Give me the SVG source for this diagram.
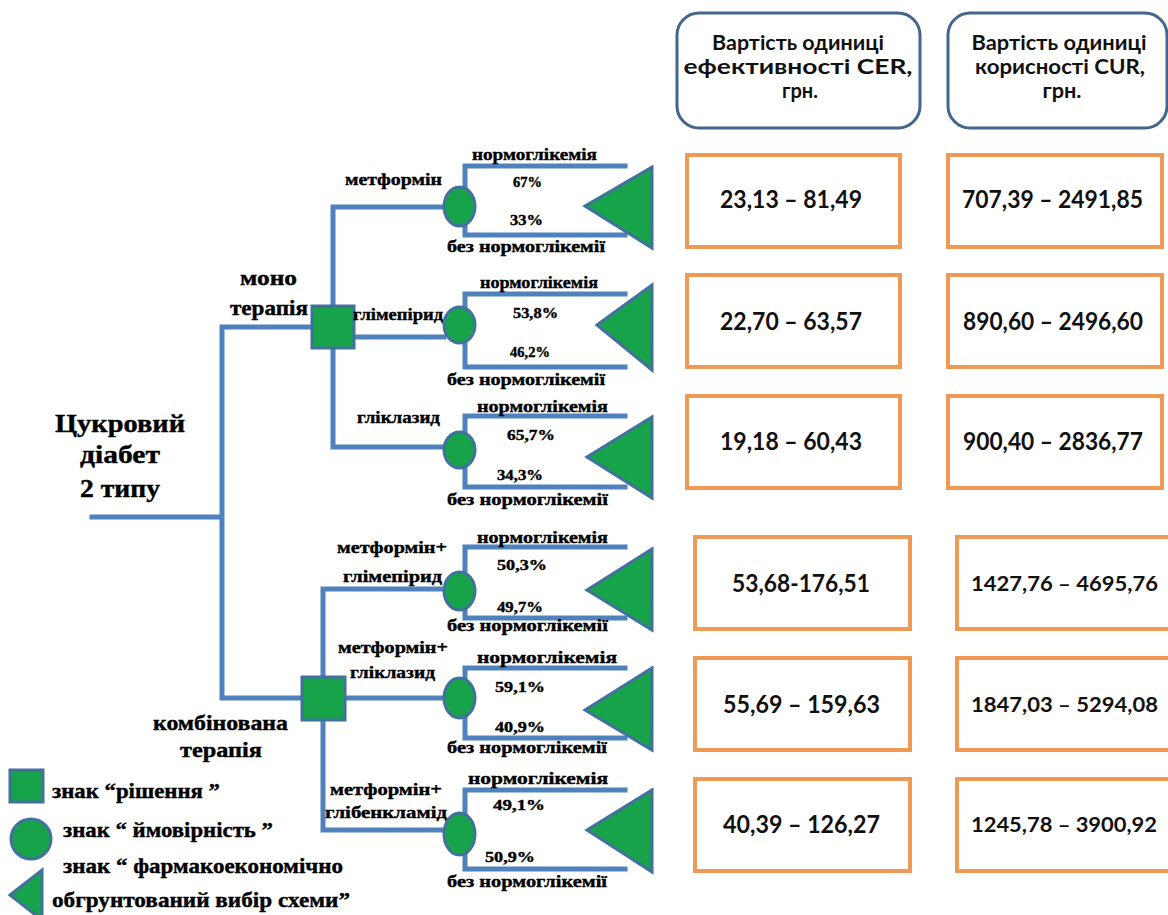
<svg xmlns="http://www.w3.org/2000/svg" width="1168" height="915" viewBox="0 0 1168 915">
<style>
.ln{stroke:#4f81bd;stroke-width:5;fill:none;stroke-linecap:square}
.sh{fill:#17a34a;stroke:#41719c;stroke-width:3}
.hd{fill:#fff;stroke:#44658c;stroke-width:3}
.vb{fill:#fff;stroke:#ee9a55;stroke-width:4}
.t{font-weight:bold;fill:#000;stroke:#000;stroke-width:0.4}
.s15{font-size:17px}
.s14{font-size:15px}
.s19{font-size:21px}
.s24{font-size:26px}
.s18{font-size:21px}
.c{font-weight:bold;fill:#111}
.h{font-size:21px;text-anchor:middle}
.v{font-size:24px}
.vs{font-size:21px}
</style>
<rect width="1168" height="915" fill="#fff"/>

<g id="connectors">
<path class="ln" d="M92,517 H222 M222,327 V698 M222,327 H312 M222,698 H302"/>
<path class="ln" d="M333,207 V447 M333,207 H444 M354,337 H444 M333,447 H444"/>
<path class="ln" d="M323,589 V830 M323,589 H444 M345,698 H444 M323,830 H444"/>
<path class="ln" d="M465,166 V235 M465,166 H625 M465,235 H625"/>
<path class="ln" d="M465,294 V367 M465,294 H625 M465,367 H625"/>
<path class="ln" d="M465,416 V487 M465,416 H625 M465,487 H625"/>
<path class="ln" d="M465,547 V618 M465,547 H625 M465,618 H625"/>
<path class="ln" d="M465,668 V738 M465,668 H625 M465,738 H625"/>
<path class="ln" d="M465,790 V869 M465,790 H625 M465,869 H625"/>
</g>

<g font-family="'Liberation Serif', 'DejaVu Serif', 'Times New Roman', serif">
<g id="root"><text class="t s24" x="55" y="432" textLength="130" lengthAdjust="spacingAndGlyphs">Цукровий</text><text class="t s24" x="80" y="463" textLength="80" lengthAdjust="spacingAndGlyphs">діабет</text><text class="t s24" x="80" y="497" textLength="80" lengthAdjust="spacingAndGlyphs">2 типу</text></g>

<g id="mono-label"><text class="t s19" x="240" y="285" textLength="57" lengthAdjust="spacingAndGlyphs">моно</text><text class="t s19" x="230" y="315" textLength="78" lengthAdjust="spacingAndGlyphs">терапія</text></g>
<g id="combo-label"><text class="t s19" x="153" y="730" textLength="135" lengthAdjust="spacingAndGlyphs">комбінована</text><text class="t s19" x="180" y="757" textLength="82" lengthAdjust="spacingAndGlyphs">терапія</text></g>

<g id="decision-mono"><rect class="sh" x="312" y="306" width="42" height="42"/></g>
<g id="decision-combo"><rect class="sh" x="302" y="677" width="43" height="43"/></g>

<g id="branch-metformin">
<text class="t s15" x="345" y="185" textLength="97" lengthAdjust="spacingAndGlyphs">метформін</text>
<ellipse class="sh" cx="459.5" cy="206.5" rx="15.5" ry="19.5"/>
<text class="t s15" x="472" y="160" textLength="125" lengthAdjust="spacingAndGlyphs">нормоглікемія</text>
<text class="t s14" x="513" y="187" textLength="29" lengthAdjust="spacingAndGlyphs">67%</text>
<text class="t s14" x="510" y="225" textLength="33" lengthAdjust="spacingAndGlyphs">33%</text>
<text class="t s15" x="447" y="252" textLength="158" lengthAdjust="spacingAndGlyphs">без нормоглікемії</text>
<polygon class="sh" points="585,206 652,167 652,248"/>
</g>

<g id="branch-glimepiride">
<text class="t s15" x="353" y="320" textLength="90" lengthAdjust="spacingAndGlyphs">глімепірид</text>
<ellipse class="sh" cx="459.5" cy="325" rx="15.5" ry="18"/>
<text class="t s15" x="480" y="288" textLength="118" lengthAdjust="spacingAndGlyphs">нормоглікемія</text>
<text class="t s14" x="513" y="318" textLength="45" lengthAdjust="spacingAndGlyphs">53,8%</text>
<text class="t s14" x="510" y="357" textLength="40" lengthAdjust="spacingAndGlyphs">46,2%</text>
<text class="t s15" x="447" y="385" textLength="158" lengthAdjust="spacingAndGlyphs">без нормоглікемії</text>
<polygon class="sh" points="597,325 652,285 652,370"/>
</g>

<g id="branch-gliclazide">
<text class="t s15" x="357" y="423" textLength="83" lengthAdjust="spacingAndGlyphs">гліклазид</text>
<ellipse class="sh" cx="459.5" cy="450" rx="15.5" ry="18"/>
<text class="t s15" x="477" y="412" textLength="131" lengthAdjust="spacingAndGlyphs">нормоглікемія</text>
<text class="t s14" x="507" y="440" textLength="48" lengthAdjust="spacingAndGlyphs">65,7%</text>
<text class="t s14" x="497" y="480" textLength="46" lengthAdjust="spacingAndGlyphs">34,3%</text>
<text class="t s15" x="447" y="505" textLength="161" lengthAdjust="spacingAndGlyphs">без нормоглікемії</text>
<polygon class="sh" points="587,457 652,417 652,498"/>
</g>

<g id="branch-met-glim">
<text class="t s15" x="337" y="553" textLength="110" lengthAdjust="spacingAndGlyphs">метформін+</text>
<text class="t s15" x="343" y="582" textLength="99" lengthAdjust="spacingAndGlyphs">глімепірид</text>
<ellipse class="sh" cx="459.5" cy="591" rx="15.5" ry="19"/>
<text class="t s15" x="477" y="543" textLength="131" lengthAdjust="spacingAndGlyphs">нормоглікемія</text>
<text class="t s14" x="497" y="570" textLength="50" lengthAdjust="spacingAndGlyphs">50,3%</text>
<text class="t s14" x="497" y="612" textLength="46" lengthAdjust="spacingAndGlyphs">49,7%</text>
<text class="t s15" x="447" y="631" textLength="161" lengthAdjust="spacingAndGlyphs">без нормоглікемії</text>
<polygon class="sh" points="587,590 652,549 652,630"/>
</g>

<g id="branch-met-glicl">
<text class="t s15" x="338" y="653" textLength="110" lengthAdjust="spacingAndGlyphs">метформін+</text>
<text class="t s15" x="350" y="678" textLength="85" lengthAdjust="spacingAndGlyphs">гліклазид</text>
<ellipse class="sh" cx="459.5" cy="698" rx="15.5" ry="20"/>
<text class="t s15" x="477" y="663" textLength="140" lengthAdjust="spacingAndGlyphs">нормоглікемія</text>
<text class="t s14" x="495" y="692" textLength="50" lengthAdjust="spacingAndGlyphs">59,1%</text>
<text class="t s14" x="495" y="732" textLength="50" lengthAdjust="spacingAndGlyphs">40,9%</text>
<text class="t s15" x="447" y="753" textLength="160" lengthAdjust="spacingAndGlyphs">без нормоглікемії</text>
<polygon class="sh" points="585,710 652,668 652,750"/>
</g>

<g id="branch-met-glib">
<text class="t s15" x="330" y="795" textLength="112" lengthAdjust="spacingAndGlyphs">метформін+</text>
<text class="t s15" x="325" y="818" textLength="122" lengthAdjust="spacingAndGlyphs">глібенкламід</text>
<ellipse class="sh" cx="459.5" cy="834" rx="15.5" ry="21"/>
<text class="t s15" x="468" y="784" textLength="140" lengthAdjust="spacingAndGlyphs">нормоглікемія</text>
<text class="t s14" x="493" y="810" textLength="52" lengthAdjust="spacingAndGlyphs">49,1%</text>
<text class="t s14" x="485" y="862" textLength="50" lengthAdjust="spacingAndGlyphs">50,9%</text>
<text class="t s15" x="447" y="887" textLength="160" lengthAdjust="spacingAndGlyphs">без нормоглікемії</text>
<polygon class="sh" points="587,830 652,790 652,872"/>
</g>

<g id="legend">
<rect class="sh" x="10" y="770" width="33" height="32"/>
<text class="t s18" x="52" y="798" textLength="168" lengthAdjust="spacingAndGlyphs">знак “рішення ”</text>
<circle class="sh" cx="31" cy="839" r="20"/>
<text class="t s18" x="63" y="837" textLength="210" lengthAdjust="spacingAndGlyphs">знак “ ймовірність ”</text>
<polygon class="sh" points="10,895 42,870 42,920"/>
<text class="t s18" x="63" y="873" textLength="280" lengthAdjust="spacingAndGlyphs">знак “ фармакоекономічно</text>
<text class="t s18" x="52" y="907" textLength="298" lengthAdjust="spacingAndGlyphs">обгрунтований вибір схеми”</text>
</g>
</g>

<g font-family="Lato, 'Open Sans', 'Liberation Sans', sans-serif">
<g id="header-cer"><rect class="hd" x="677" y="13" width="243" height="115" rx="22"/>
<text class="c h" x="798" y="50" textLength="172" lengthAdjust="spacingAndGlyphs">Вартість одиниці</text>
<text class="c h" x="798" y="74" textLength="229" lengthAdjust="spacingAndGlyphs">ефективності CER,</text>
<text class="c h" x="800" y="98" textLength="36" lengthAdjust="spacingAndGlyphs">грн.</text></g>
<g id="header-cur"><rect class="hd" x="948" y="13" width="219" height="115" rx="22"/>
<text class="c h" x="1059" y="50" textLength="175" lengthAdjust="spacingAndGlyphs">Вартість одиниці</text>
<text class="c h" x="1060" y="74" textLength="170" lengthAdjust="spacingAndGlyphs">корисності CUR,</text>
<text class="c h" x="1062" y="98" textLength="39" lengthAdjust="spacingAndGlyphs">грн.</text></g>

<g id="cer-1"><rect class="vb" x="687" y="155" width="213" height="92"/><text class="c v" x="720" y="208" textLength="142" lengthAdjust="spacingAndGlyphs">23,13 – 81,49</text></g>
<g id="cur-1"><rect class="vb" x="948" y="155" width="214" height="92"/><text class="c v" x="962" y="208" textLength="181" lengthAdjust="spacingAndGlyphs">707,39 – 2491,85</text></g>
<g id="cer-2"><rect class="vb" x="687" y="275" width="213" height="92"/><text class="c v" x="720" y="330" textLength="142" lengthAdjust="spacingAndGlyphs">22,70 – 63,57</text></g>
<g id="cur-2"><rect class="vb" x="948" y="275" width="214" height="92"/><text class="c v" x="963" y="330" textLength="180" lengthAdjust="spacingAndGlyphs">890,60 – 2496,60</text></g>
<g id="cer-3"><rect class="vb" x="687" y="396" width="213" height="92"/><text class="c v" x="720" y="450" textLength="142" lengthAdjust="spacingAndGlyphs">19,18 – 60,43</text></g>
<g id="cur-3"><rect class="vb" x="948" y="396" width="214" height="92"/><text class="c v" x="963" y="450" textLength="180" lengthAdjust="spacingAndGlyphs">900,40 – 2836,77</text></g>
<g id="cer-4"><rect class="vb" x="695" y="537" width="215" height="92"/><text class="c v" x="732" y="592" textLength="138" lengthAdjust="spacingAndGlyphs">53,68-176,51</text></g>
<g id="cur-4"><rect class="vb" x="957" y="537" width="225" height="92"/><text class="c vs" x="971" y="591" textLength="187" lengthAdjust="spacingAndGlyphs">1427,76 – 4695,76</text></g>
<g id="cer-5"><rect class="vb" x="695" y="658" width="215" height="92"/><text class="c v" x="723" y="713" textLength="157" lengthAdjust="spacingAndGlyphs">55,69 – 159,63</text></g>
<g id="cur-5"><rect class="vb" x="957" y="658" width="225" height="92"/><text class="c vs" x="971" y="712" textLength="187" lengthAdjust="spacingAndGlyphs">1847,03 – 5294,08</text></g>
<g id="cer-6"><rect class="vb" x="695" y="779" width="215" height="92"/><text class="c v" x="723" y="833" textLength="157" lengthAdjust="spacingAndGlyphs">40,39 – 126,27</text></g>
<g id="cur-6"><rect class="vb" x="957" y="779" width="225" height="92"/><text class="c vs" x="971" y="832" textLength="186" lengthAdjust="spacingAndGlyphs">1245,78 – 3900,92</text></g>
</g>
</svg>
